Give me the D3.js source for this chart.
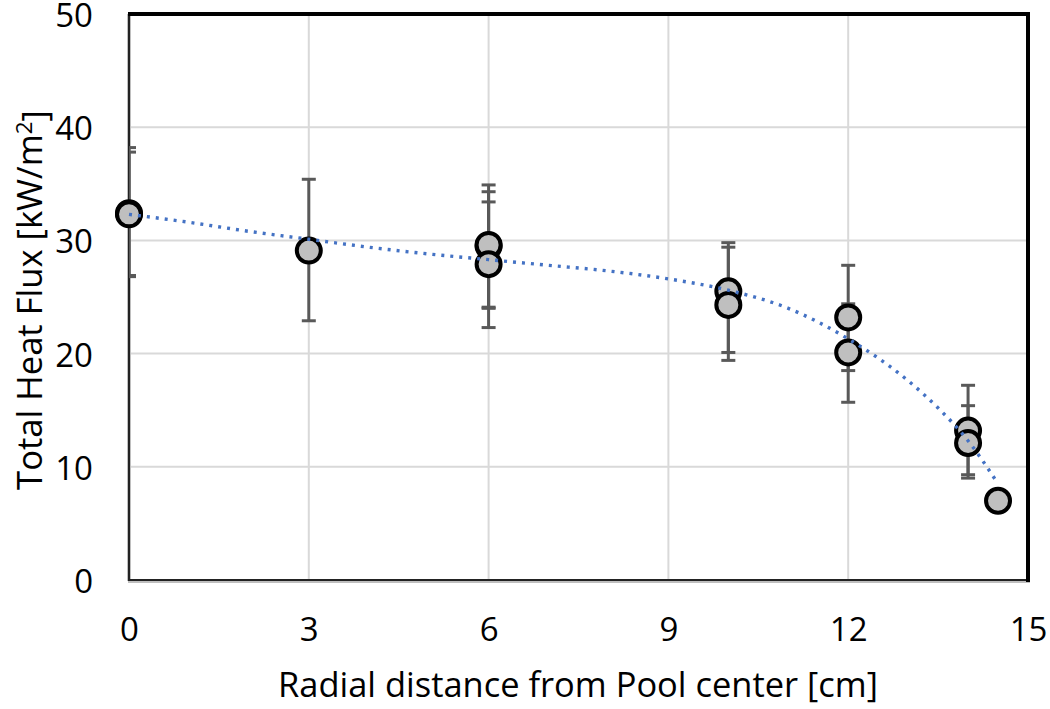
<!DOCTYPE html>
<html><head><meta charset="utf-8">
<script src="https://cdn.jsdelivr.net/npm/d3@7"></script>
<style>body{margin:0;background:#fff}svg{display:block}text{font-family:"Open Sans",sans-serif;fill:#000}</style>
</head><body>
<svg id="c" width="1050" height="709"></svg>
<script>
// ---- data ----
const pointX  = [0, 0, 3, 6, 6, 6, 10, 10, 12, 12, 14, 14, 14.5];
const pointY  = [32.4, 32.3, 29.1, 29.5, 29.6, 27.9, 25.5, 24.3, 23.2, 20.1, 13.2, 12.1, 7.0];
const errHigh = [38.2, 37.8, 35.4, 34.9, 34.3, 33.4, 29.8, 29.4, 27.8, 24.4, 17.2, 15.4, 7.5];
const errLow  = [26.8, 26.9, 22.9, 24.0, 24.1, 22.3, 20.1, 19.4, 18.5, 15.7, 9.3, 9.0, 6.1];
const trendX  = [0, 1, 2, 3, 4, 5, 6, 7, 8, 9, 10, 11, 12, 13, 13.5, 14, 14.5];
const trendY  = [32.3, 31.6, 30.8, 30.1, 29.4, 28.8, 28.3, 27.8, 27.3, 26.6, 25.6, 24.0, 21.3, 17.6, 15.2, 12.3, 8.5];
const xTicks  = [0, 3, 6, 9, 12, 15];
const yTicks  = [0, 10, 20, 30, 40, 50];
const xTitle  = "Radial distance from Pool center [cm]";
const yTitle  = "Total Heat Flux [kW/m";

// ---- layout ----
const L = 129, R = 1028, T = 14, B = 580;
const svg = d3.select("#c");
const x = d3.scaleLinear().domain([0, 15]).range([L, R]);
const y = d3.scaleLinear().domain([0, 50]).range([B, T]);

svg.append("defs").append("clipPath").attr("id","pc")
  .append("rect").attr("x", L).attr("y", T).attr("width", R - L).attr("height", B - T);

// grid
const grid = svg.append("g");
grid.selectAll(".gx").data(xTicks.filter(d => d > 0 && d < 15)).join("line")
  .attr("x1", d => x(d)).attr("x2", d => x(d)).attr("y1", T).attr("y2", B)
  .attr("stroke", "#d9d9d9").attr("stroke-width", 2);
grid.selectAll(".gy").data(yTicks.filter(d => d > 0 && d < 50)).join("line")
  .attr("y1", d => y(d)).attr("y2", d => y(d)).attr("x1", L).attr("x2", R)
  .attr("stroke", "#d9d9d9").attr("stroke-width", 2);

// axes via d3
const xAxis = svg.append("g").attr("transform", `translate(0,${B})`)
  .call(d3.axisBottom(x).tickValues(xTicks).tickSize(0).tickPadding(38).tickFormat(d3.format("d")));
xAxis.select(".domain").remove();
xAxis.selectAll("text").attr("font-size", 33).attr("fill", "#000").style("font-family", '"Open Sans",sans-serif');

const yAxis = svg.append("g").attr("transform", `translate(${L},0)`)
  .call(d3.axisLeft(y).tickValues(yTicks).tickSize(0).tickPadding(36).tickFormat(d3.format("d")));
yAxis.select(".domain").remove();
yAxis.selectAll("text").attr("font-size", 33).attr("fill", "#000").attr("dy", "0.38em").style("font-family", '"Open Sans",sans-serif');

// frame
svg.append("line").attr("x1", L).attr("x2", L).attr("y1", T).attr("y2", B + 1).attr("stroke", "#bfbfbf").attr("stroke-width", 4);
svg.append("line").attr("x1", L).attr("x2", L).attr("y1", T).attr("y2", B + 1).attr("stroke", "#222").attr("stroke-width", 2);
svg.append("line").attr("x1", L - 1).attr("x2", R + 2).attr("y1", B + 1).attr("y2", B + 1).attr("stroke", "#bfbfbf").attr("stroke-width", 4);
svg.append("line").attr("x1", L - 1).attr("x2", R + 2).attr("y1", B).attr("y2", B).attr("stroke", "#222").attr("stroke-width", 2);
svg.append("line").attr("x1", L - 1).attr("x2", R + 2).attr("y1", T).attr("y2", T).attr("stroke", "#000").attr("stroke-width", 4);
svg.append("line").attr("x1", R).attr("x2", R).attr("y1", T - 2).attr("y2", B + 2).attr("stroke", "#000").attr("stroke-width", 4);

// error bars
const pts = pointX.map((d, i) => ({x: d, y: pointY[i], hi: errHigh[i], lo: errLow[i]}));
const eb = svg.append("g").attr("clip-path", "url(#pc)").attr("stroke", "#595959").attr("stroke-width", 3);
pts.forEach(p => {
  eb.append("line").attr("x1", x(p.x)).attr("x2", x(p.x)).attr("y1", y(p.hi)).attr("y2", y(p.lo));
  [p.hi, p.lo].forEach(v => eb.append("line").attr("x1", x(p.x) - 7).attr("x2", x(p.x) + 7).attr("y1", y(v)).attr("y2", y(v)));
});

// markers
svg.append("g").selectAll("circle").data(pts).join("circle")
  .attr("cx", d => x(d.x)).attr("cy", d => y(d.y)).attr("r", 12)
  .attr("fill", "#bfbfbf").attr("stroke", "#000").attr("stroke-width", 4);

// trendline
const tdata = trendX.map((d, i) => [d, trendY[i]]);
svg.append("path").datum(tdata)
  .attr("d", d3.line().x(d => x(d[0])).y(d => y(d[1])).curve(d3.curveMonotoneX))
  .attr("fill", "none").attr("stroke", "#4472c4").attr("stroke-width", 3.4)
  .attr("stroke-dasharray", "3 6");

// titles
const xt = svg.append("text").attr("x", (278 + 878) / 2).attr("y", 697).attr("text-anchor", "middle")
  .attr("font-size", 28).text(xTitle);
let w = xt.node().getComputedTextLength();
xt.attr("font-size", 28 * 600 / w);

const yt = svg.append("text").attr("transform", "translate(42,300) rotate(-90)").attr("text-anchor", "middle")
  .attr("font-size", 28);
yt.append("tspan").text(yTitle);
yt.append("tspan").attr("dy", "-0.45em").attr("font-size", "0.65em").text("2");
yt.append("tspan").attr("dy", "0.45em").text("]");
w = yt.node().getComputedTextLength();
yt.attr("font-size", 28 * 380 / w);
</script>
</body></html>
